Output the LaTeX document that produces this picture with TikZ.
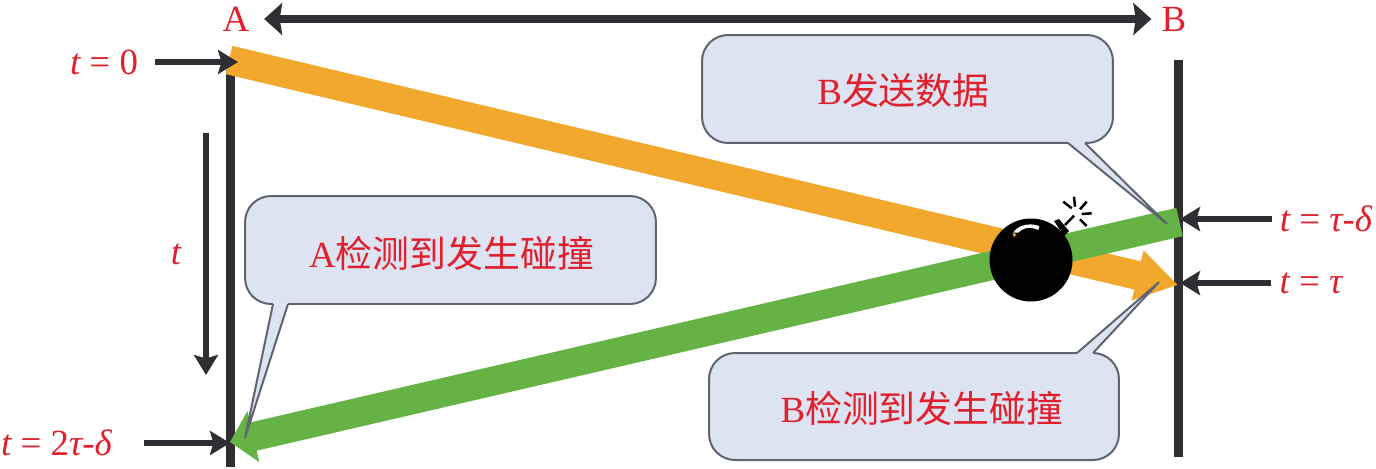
\documentclass[tikz,border=0pt]{standalone}
\usepackage{fontspec}
\setmainfont{Liberation Serif}
\newfontfamily\cjk{Noto Sans CJK SC}
\usetikzlibrary{arrows.meta}
\definecolor{sigorange}{HTML}{F2A82C}
\definecolor{siggreen}{HTML}{66B345}
\definecolor{wallgray}{HTML}{2E2E33}
\definecolor{bubblefill}{HTML}{DDE3F1}
\definecolor{bubbleline}{HTML}{5F6470}
\definecolor{labelred}{HTML}{E0202E}
\tikzset{wall/.style={wallgray, line width=0.18cm}}
\tikzset{span/.style={wallgray, line width=0.17cm, {Stealth[length=0.36cm, width=0.64cm, inset=0.05cm]}-{Stealth[length=0.36cm, width=0.64cm, inset=0.05cm]}}}
\tikzset{pin/.style={-{Stealth[length=0.4cm, width=0.48cm, inset=0.07cm]}, wallgray, line width=0.11cm}}
\tikzset{sigband/.style={line width=0.58cm}}
\tikzset{bubble/.style={fill=bubblefill, draw=bubbleline, line width=0.04cm, rounded corners=0.52cm, inner sep=0pt}}
\tikzset{bubbletail/.style={draw=bubbleline, line width=0.04cm}}
\tikzset{timelabel/.style={labelred, inner sep=0pt, font=\fontsize{21}{21}\selectfont\itshape}}
\tikzset{endlabel/.style={labelred, inner sep=0pt, font=\fontsize{21}{21}\selectfont}}
\tikzset{saylabel/.style={labelred, inner sep=0pt, font=\fontsize{21}{21}\selectfont}}
\begin{document}
\begin{tikzpicture}[x=0.02cm, y=-0.02cm]
\useasboundingbox (0,0) rectangle (1376,468);
\node[endlabel] (labelA) at (236,19) {A};
\node[endlabel] (labelB) at (1174,19) {B};
\draw[span, shorten <=0.29cm, shorten >=0.2cm] (labelA) -- (labelB);
\coordinate (wallAtop) at (230,70);
\coordinate (wallAend) at (230,467);
\coordinate (wallBtop) at (1178.5,60);
\coordinate (wallBend) at (1178.5,457);
\draw[wall] (wallAtop) -- (wallAend);
\draw[wall] (wallBtop) -- (wallBend);
% the two frames on the wire
\coordinate (frameAstart) at (229,60);
\coordinate (frameAtip) at (1178,285);
\coordinate (frameBstart) at (1179.5,222);
\coordinate (frameBtip) at (230,442);
\draw[sigband, sigorange, -{Triangle[length=0.83cm, width=0.97cm]}] (frameAstart) -- (frameAtip);
\draw[sigband, siggreen, -{Triangle[length=0.48cm, width=1.02cm]}] (frameBstart) -- (frameBtip);
% time marks
\node[timelabel] (tzero) at (104,62) {t {\upshape=} {\upshape 0}};
\node[timelabel] (tdouble) at (56.5,443) {t {\upshape=} {\upshape 2}τ{\upshape -}δ};
\node[timelabel] (tearly) at (1326,219) {t {\upshape=} τ{\upshape -}δ};
\node[timelabel] (ttau) at (1311,283) {t {\upshape=} τ};
\node[timelabel] (taxis) at (176,254) {t};
\coordinate (tipzero) at (238,62);
\coordinate (tipdouble) at (230,443);
\coordinate (tipearly) at (1180,219);
\coordinate (tiptau) at (1180,283);
\draw[pin, shorten <=0.34cm] (tzero) -- (tipzero);
\draw[pin, shorten <=0.64cm] (tdouble) -- (tipdouble);
\draw[pin, shorten <=0.16cm] (tearly) -- (tipearly);
\draw[pin, shorten <=0.16cm] (ttau) -- (tiptau);
\coordinate (axistop) at (206,133);
\coordinate (axisend) at (206,375);
\draw[pin] (axistop) -- (axisend);
% bomb
\node[circle, fill=black, inner sep=0pt, minimum size=1.66cm] (bomb) at (1031,260) {};
\fill[black] (1054,221) -- (1059,219) -- (1069,231) -- (1064,236) -- cycle;
\draw[black, line width=0.05cm] (1065,225) -- (1074,215.7);
\draw[black, line width=0.05cm] (1063.3,201.7) -- (1071.7,208.3);
\draw[black, line width=0.05cm] (1074,196.7) -- (1075,206.7);
\draw[black, line width=0.05cm] (1086.7,201.7) -- (1080,209.3);
\draw[black, line width=0.05cm] (1091.7,213.3) -- (1081.7,214);
\draw[black, line width=0.05cm] (1086.7,226) -- (1080,219.3);
\fill[white] (1013.3,232.7) .. controls (1017,226) and (1028,222) .. (1039.3,226) -- (1038.3,230) .. controls (1030,226) and (1022,228) .. (1018.3,232.7) -- cycle;
\fill[sigorange] (1012.5,233) -- (1016.5,234) -- (1014,237.5) -- cycle;
% speech bubbles
\node[bubble, minimum width=8.22cm, minimum height=2.16cm] (bubbleSend) at (907.5,89) {};
\coordinate (tailSendL) at (1068,143);
\coordinate (tailSendR) at (1085,143);
\coordinate (tailSend) at (1167,224);
\fill[bubblefill] (tailSendL) -- (tailSend) -- (tailSendR) -- (1085,140) -- (1068,140) -- cycle;
\draw[bubbletail] (tailSendL) -- (tailSend) -- (tailSendR);
\node[saylabel] (saySend) at (903.5,90) {B{\cjk 发送数据}};
\node[bubble, minimum width=8.2cm, minimum height=2.14cm] (bubbleB) at (914,406.5) {};
\coordinate (tailBL) at (1077,353);
\coordinate (tailBR) at (1093,353);
\coordinate (tailB) at (1159,282);
\fill[bubblefill] (tailBL) -- (tailB) -- (tailBR) -- (1093,356) -- (1077,356) -- cycle;
\draw[bubbletail] (tailBL) -- (tailB) -- (tailBR);
\node[saylabel] (sayB) at (922,408) {B{\cjk 检测到发生碰撞}};
\node[bubble, minimum width=8.22cm, minimum height=2.16cm] (bubbleA) at (450.5,250) {};
\coordinate (tailAL) at (273,304);
\coordinate (tailAR) at (288,304);
\coordinate (tailA) at (245,438);
\fill[bubblefill] (tailAL) -- (tailA) -- (tailAR) -- (288,301) -- (273,301) -- cycle;
\draw[bubbletail] (tailAL) -- (tailA) -- (tailAR);
\node[saylabel] (sayA) at (451.5,253) {A{\cjk 检测到发生碰撞}};
\end{tikzpicture}
\end{document}
